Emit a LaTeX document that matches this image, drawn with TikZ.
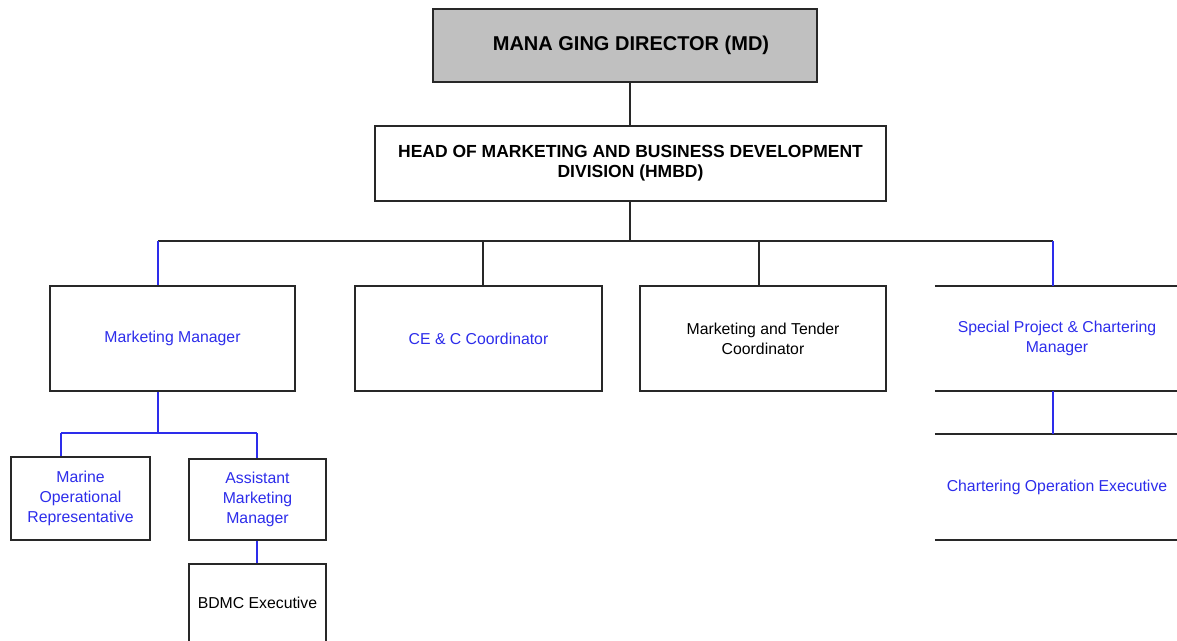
\documentclass[tikz,border=0pt]{standalone}
\usepackage{fontspec}
\setmainfont{Liberation Sans}
\definecolor{orgblue}{RGB}{45,45,235}
\definecolor{edge}{RGB}{40,40,40}
\definecolor{mdgray}{RGB}{192,192,192}
\begin{document}
\begin{tikzpicture}[x=1pt,y=-1pt,
  box/.style={draw=edge, line width=1.8pt, fill=white, inner sep=0pt, align=center,
    font=\fontsize{15.8}{20}\selectfont},
  openbox/.style={inner sep=0pt, align=center, font=\fontsize{15.8}{20}\selectfont},
  link/.style={draw=edge, line width=1.8pt},
  bluelink/.style={draw=orgblue, line width=1.5pt},
  bluetext/.style={text=orgblue}]
\useasboundingbox (0,0) rectangle (1177,640);
\clip (0,0) rectangle (1177,640);

% top of the chart
\node[box, fill=mdgray, minimum width=384pt, minimum height=73pt,
  font=\bfseries\fontsize{20}{22}\selectfont] (md) at (625,45.5)
  {\hspace*{12pt}\raisebox{-3pt}{MANA GING DIRECTOR (MD)}};
\node[box, minimum width=511pt, minimum height=75pt,
  font=\bfseries\fontsize{17.5}{20}\selectfont] (hmbd) at (630.5,163.5)
  {HEAD OF MARKETING AND BUSINESS DEVELOPMENT\\DIVISION (HMBD)};

% second level
\node[box, bluetext, minimum width=245pt, minimum height=105pt] (mm) at (172.5,338.5) {Marketing Manager};
\node[box, bluetext, minimum width=247pt, minimum height=105pt] (cec) at (478.5,338.5) {CE \& C Coordinator};
\node[box, minimum width=246pt, minimum height=105pt] (mtc) at (763,338.5) {Marketing and Tender\\Coordinator};
\node[openbox, bluetext, minimum width=244pt, minimum height=105pt] (spc) at (1057,338.5)
  {Special Project \& Chartering\\Manager};
\node[openbox, bluetext, minimum width=244pt, minimum height=106pt] (coe) at (1057,487)
  {Chartering Operation Executive};
\draw[link] (spc.north west) -- (spc.north east);
\draw[link] (spc.south west) -- (spc.south east);
\draw[link] (coe.north west) -- (coe.north east);
\draw[link] (coe.south west) -- (coe.south east);

% third level
\node[box, bluetext, minimum width=139pt, minimum height=83pt] (mor) at (80.5,498.5)
  {Marine\\Operational\\Representative};
\node[box, bluetext, minimum width=137pt, minimum height=81pt] (amm) at (257.5,499.5)
  {Assistant\\Marketing\\Manager};
\node[box, minimum width=137pt, minimum height=78pt] (bdmc) at (257.5,603) {BDMC Executive};

% connectors
\coordinate (bus) at (630,241);
\coordinate (jmm) at (158,241);
\coordinate (jcec) at (483,241);
\coordinate (jmtc) at (759,241);
\coordinate (jspc) at (1053,241);
\draw[link] (bus |- md.south) -- (bus |- hmbd.north);
\draw[link] (bus |- hmbd.south) -- (bus);
\draw[link] (jmm) -- (jspc);
\draw[bluelink] (jmm) -- (jmm |- mm.north);
\draw[link] (jcec) -- (jcec |- cec.north);
\draw[link] (jmtc) -- (jmtc |- mtc.north);
\draw[bluelink] (jspc) -- (jspc |- spc.north);
\draw[bluelink] (jspc |- spc.south) -- (jspc |- coe.north);

\coordinate (sub) at (158,433);
\coordinate (jmor) at (61,433);
\coordinate (jamm) at (257,433);
\draw[bluelink] (sub |- mm.south) -- (sub);
\draw[bluelink] (jmor) -- (jamm);
\draw[bluelink] (jmor) -- (jmor |- mor.north);
\draw[bluelink] (jamm) -- (jamm |- amm.north);
\draw[bluelink] (jamm |- amm.south) -- (jamm |- bdmc.north);
\end{tikzpicture}
\end{document}
